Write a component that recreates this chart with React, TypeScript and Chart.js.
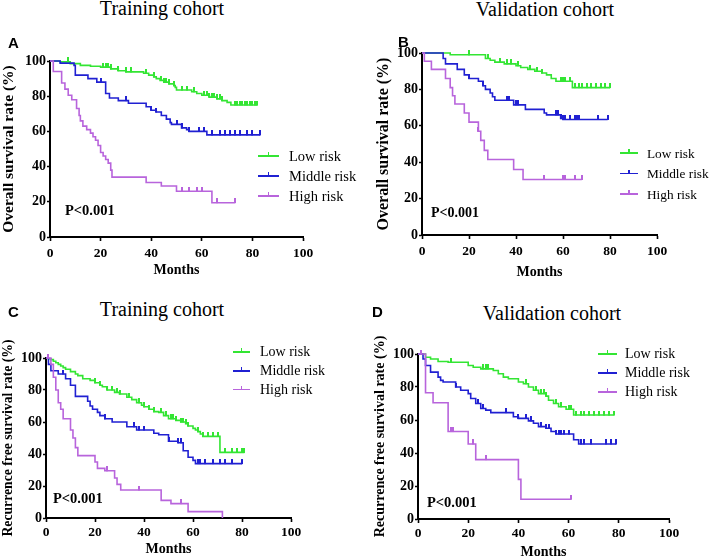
import React, { useEffect, useRef } from 'react';
import { Chart, registerables } from 'chart.js';
Chart.register(...registerables);

// ---------- text / categories ----------
const seriesNames = ['Low risk', 'Middle risk', 'High risk'];
const seriesColors = ['#33e533', '#2020d2', '#b864dc'];
const panelTitles = ['Training cohort', 'Validation cohort', 'Training cohort', 'Validation cohort'];
const panelLetters = ['A', 'B', 'C', 'D'];
const yAxisTitles = [
  'Overall survival rate (%)',
  'Overall survival rate (%)',
  'Recurrence free survival rate (%)',
  'Recurrence free survival rate (%)',
];
const xAxisTitle = 'Months';
const pValueText = 'P<0.001';
const xTickValues = [0, 20, 40, 60, 80, 100];
const yTickValues = [0, 20, 40, 60, 80, 100];

// ---------- A: overall survival, training cohort [month, survival %] ----------
const osTrainLow = [[0,100],[4,99.5],[8,98.5],[12,97.5],[16,97],[20,96.5],[24,95.5],[27,94.5],[30,93.8],[37,93],[39,92],[41,91],[42,90],[43.5,89],[45,88],[47,87],[49,86],[49.5,85],[50,83.5],[56,82.5],[58,81.5],[60,80.5],[63,79.5],[66,78.5],[68,77.5],[70,76.5],[71.5,75],[82,75]];
const osTrainMid = [[0,100],[4,98.8],[9.5,97.5],[10,92],[15,90],[18.5,88],[22,81.5],[23.5,79],[27,77.5],[31,76],[38,74],[40,72],[42,71],[44,69],[46,67],[47.5,65],[48,64],[52,62],[54,61],[55,60],[62,58],[83,58]];
const osTrainHigh = [[0,100],[1.3,94],[4.6,87.5],[5.9,84],[7.2,80.5],[8.6,78],[10.5,73],[11.5,69],[12,66],[13,63],[14.5,61],[16,59],[17,57],[18,55],[19,52],[20,48],[21,46],[22,44],[23,42],[24,38],[24.5,34],[38,31],[44,29],[50,26],[64,19.5],[73,19.5]];
const osTrainLowCens = [7,21,22,23,24,27,30,32,38,41,44,45,46,47,49,52,54,57,61,62,63,64,65,66,67,68,73,74,75,76,77,78,79,80,81,82];
const osTrainMidCens = [7,20,30,40,42,50,52,55,59,61,64,67,69,71,73,75,78,80,83];
const osTrainHighCens = [52,55,58,60,66,73];

// ---------- B: overall survival, validation cohort ----------
const osValidLow = [[0,100],[12,99],[27,97],[29,96],[31,95],[35,94],[40,93],[42,92],[45,91],[48,90],[51,89],[53,88],[55,86],[57,84.5],[64,81],[80,81]];
const osValidMid = [[0,100],[9,97],[10,94],[15,91],[18,88],[20,86],[24,84.5],[26,82],[27,80],[29,78],[30,76],[31,74],[39,71.5],[44,69],[52,67],[53,66],[59,64],[60,63.5],[79,63.5]];
const osValidHigh = [[0,100],[1,95.5],[4,91],[10,86],[12,81],[13,76.5],[14,72],[18,67],[20,62],[24,57],[25,52],[26.5,46.5],[28,41.5],[39,36],[43,30.5],[68,30.5]];
const osValidLowCens = [20,28,33,36,38,41,46,49,51,59,60,61,63,65,67,68,70,72,74,76,78,80];
const osValidMidCens = [20,26,36,37,40,41,57,58,59,60,61,63,65,66,67,75,79];
const osValidHighCens = [24,52,60,61,65,68];

// ---------- C: recurrence free survival, training cohort ----------
const rfsTrainLow = [[0,100],[1,99.5],[2,99],[3,98],[4,97],[5,96],[6,95],[7,94],[8,93],[10,91.5],[12,90],[13,89],[15,87],[18,86],[20,84.5],[22,83],[23,82],[25,80],[28,78.5],[30,77.5],[33,75.5],[35,74],[37,72],[39,70.5],[40,69.5],[42,68],[44,66.5],[46,66],[48,64],[50,62],[53,61],[55,60],[57,59],[58,57.5],[60,56],[61,55],[62,54],[63,52.5],[64,51],[71,41],[81,41]];
const rfsTrainMid = [[0,100],[1,96],[2,92],[5,90],[8,87],[10,83],[12,76],[17,73],[18,70],[19,68],[21,66],[22,64],[24,62],[27,60],[33,57],[37,55],[44,53],[46,52],[50,48],[54,47],[56,42],[58,38],[60,36],[61,34],[80,34]];
const rfsTrainHigh = [[0,100],[2,96],[3,88],[4,80],[5,72],[6,68],[7,62],[10,55],[11,50],[12,44],[13,39],[20,35],[21,31],[24,29.5],[28,25],[29,21],[30.5,17.5],[47,11],[51,9],[58,4],[72,0]];
const rfsTrainLowCens = [20,22,25,27,29,30,34,38,40,42,44,47,49,51,52,53,55,56,57,58,62,64,66,68,70,73,76,78,80,81];
const rfsTrainMidCens = [7,24,36,38,40,50,54,55,62,63,65,68,71,73,76,80];
const rfsTrainHighCens = [1,25,38,55];

// ---------- D: recurrence free survival, validation cohort ----------
const rfsValidLow = [[0,100],[3,98],[5,97],[8,95.5],[12,95],[20,93],[22,92],[25,91],[30,90],[32,88],[34,86],[36,85],[40,83],[42,82],[44,80],[46,78],[48,76],[51,74.5],[52,72],[54,70],[56,68],[59,66.5],[62,63],[78,63]];
const rfsValidMid = [[0,100],[2,97],[3,93],[5,89],[8,86],[9,84],[10,83],[15,80],[17,78],[20,76],[21,73],[23,70],[25,67],[27,66],[29,64.5],[38,62],[40,61],[44,59.5],[46,58],[48,56],[51,55],[53,53],[55,51.5],[62,48],[64,45.5],[79,45.5]];
const rfsValidHigh = [[0,100],[3,76.5],[6,70.5],[12,53],[20,45.5],[23,36],[40,24],[41,12],[61,12]];
const rfsValidLowCens = [13,26,27,28,43,47,49,50,51,55,57,60,61,63,65,66,68,70,72,74,76,78];
const rfsValidMidCens = [15,24,26,35,40,43,45,49,51,52,55,56,57,58,60,65,66,69,75,77,79];
const rfsValidHighCens = [1,13,14,22,27,61];

const panelCurves = [
  [osTrainLow, osTrainMid, osTrainHigh],
  [osValidLow, osValidMid, osValidHigh],
  [rfsTrainLow, rfsTrainMid, rfsTrainHigh],
  [rfsValidLow, rfsValidMid, rfsValidHigh],
];
const panelCensors = [
  [osTrainLowCens, osTrainMidCens, osTrainHighCens],
  [osValidLowCens, osValidMidCens, osValidHighCens],
  [rfsTrainLowCens, rfsTrainMidCens, rfsTrainHighCens],
  [rfsValidLowCens, rfsValidMidCens, rfsValidHighCens],
];

// ---------- layout (page pixels) ----------
const layouts = [
  { c: { left: 0, top: 50, width: 320, height: 230 }, pad: { top: 11, right: 17 }, yW: 50, xH: 43, xPad: 4.5, monthsPad: 1, yTitleSize: 15.5,
    title: { cx: 162, base: 15 }, letter: { x: 8, base: 48 },
    legend: { lineX: 258, lineW: 21, textX: 289, ys: [156, 176, 196], size: 14.5 }, p: { x: 65, base: 215, size: 14.5 } },
  { c: { left: 374, top: 40, width: 301, height: 245 }, pad: { top: 13, right: 18 }, yW: 48, xH: 50, xPad: 4.5, monthsPad: 4, yTitleSize: 16,
    title: { cx: 545, base: 16 }, letter: { x: 398, base: 47 },
    legend: { lineX: 620, lineW: 18, textX: 647, ys: [153, 173.5, 194], size: 13.3 }, p: { x: 431, base: 218, size: 14 } },
  { c: { left: 0, top: 330, width: 310, height: 227 }, pad: { top: 28, right: 19 }, yW: 46, xH: 39, xPad: 2.4, monthsPad: -1, yTitleSize: 13.7,
    title: { cx: 162, base: 316 }, letter: { x: 8, base: 317 },
    legend: { lineX: 233, lineW: 17, textX: 260, ys: [352, 371, 389.5], size: 14 }, p: { x: 53, base: 503, size: 14.5 } },
  { c: { left: 372, top: 325, width: 337, height: 232 }, pad: { top: 29, right: 40 }, yW: 46, xH: 38, xPad: 2.6, monthsPad: -3.4, yTitleSize: 14,
    title: { cx: 552, base: 320 }, letter: { x: 372, base: 317 },
    legend: { lineX: 598, lineW: 19, textX: 625, ys: [354, 373, 392], size: 14 }, p: { x: 427, base: 507, size: 14.5 } },
];

const SERIF = '"Liberation Serif", "Times New Roman", serif';
const SANS = '"Liberation Sans", Arial, sans-serif';

function survAt(curve: number[][], t: number) {
  let s = curve[0][1];
  for (const [ti, si] of curve) {
    if (ti <= t) s = si;
    else break;
  }
  return s;
}

function makeTick(color: string) {
  const c = document.createElement('canvas');
  c.width = 2;
  c.height = 9;
  const g = c.getContext('2d')!;
  g.fillStyle = color;
  g.fillRect(0, 0, 2, 5);
  return c;
}

function Panel({ idx }: { idx: number }) {
  const ref = useRef<HTMLCanvasElement | null>(null);
  const L = layouts[idx];
  useEffect(() => {
    const curves = panelCurves[idx];
    const cens = panelCensors[idx];
    const datasets: any[] = [];
    curves.forEach((curve, i) => {
      datasets.push({
        label: seriesNames[i],
        data: curve.map(([x, y]) => ({ x, y })),
        borderColor: seriesColors[i],
        borderWidth: 1.6,
        stepped: 'before',
        pointRadius: 0,
        fill: false,
        clip: false,
        order: 2 - i,
      });
    });
    curves.forEach((curve, i) => {
      const tick = makeTick(seriesColors[i]);
      datasets.push({
        label: seriesNames[i] + ' censored',
        data: cens[i].map((t) => ({ x: t, y: survAt(curve, t) })),
        showLine: false,
        pointStyle: tick,
        pointRadius: 3,
        borderColor: seriesColors[i],
        backgroundColor: seriesColors[i],
        clip: false,
      });
    });
    const tickFontY = { family: SERIF, weight: 'bold' as const, size: 14 };
    const tickFontX = { family: SERIF, weight: 'bold' as const, size: 13.5 };
    const chart = new Chart(ref.current!, {
      type: 'line',
      data: { datasets },
      options: {
        animation: false,
        responsive: false,
        events: [],
        layout: { padding: { top: L.pad.top, right: L.pad.right, left: 0, bottom: 0 } },
        plugins: { legend: { display: false }, tooltip: { enabled: false } },
        scales: {
          x: {
            type: 'linear',
            min: 0,
            max: 100,
            afterBuildTicks: (s: any) => { s.ticks = xTickValues.map((v) => ({ value: v })); },
            afterFit: (s: any) => { s.height = L.xH; },
            ticks: { font: tickFontX, color: '#000', padding: L.xPad, maxRotation: 0, autoSkip: false },
            grid: { drawOnChartArea: false, drawTicks: true, tickLength: 4, tickColor: '#000', tickWidth: 1.6, color: '#000' },
            border: { display: true, color: '#000', width: 2 },
            title: { display: true, text: xAxisTitle, color: '#000', font: { family: SERIF, weight: 'bold', size: 14 }, padding: { top: 0, bottom: L.monthsPad } },
          },
          y: {
            type: 'linear',
            min: 0,
            max: 100,
            afterBuildTicks: (s: any) => { s.ticks = yTickValues.map((v) => ({ value: v })); },
            afterFit: (s: any) => { s.width = L.yW; },
            ticks: { font: tickFontY, color: '#000', padding: 1, autoSkip: false },
            grid: { drawOnChartArea: false, drawTicks: true, tickLength: 3, tickColor: '#000', tickWidth: 1.6, color: '#000' },
            border: { display: true, color: '#000', width: 2 },
            title: { display: true, text: yAxisTitles[idx], color: '#000', font: { family: SERIF, weight: 'bold', size: L.yTitleSize }, padding: { top: 0, bottom: 0 } },
          },
        },
      } as any,
    });
    return () => chart.destroy();
  }, []);
  return (
    <canvas
      ref={ref}
      width={L.c.width}
      height={L.c.height}
      style={{ position: 'absolute', left: L.c.left, top: L.c.top, width: L.c.width, height: L.c.height }}
    />
  );
}

function Txt({ x, base, size, family, weight, center, children }: any) {
  const k = family === SANS ? 0.8465 : 0.8375;
  return (
    <div
      style={{
        position: 'absolute',
        left: x,
        top: base - k * size,
        fontSize: size,
        lineHeight: `${size}px`,
        fontFamily: family,
        fontWeight: weight || 'normal',
        color: '#000',
        whiteSpace: 'nowrap',
        transform: center ? 'translateX(-50%)' : undefined,
      }}
    >
      {children}
    </div>
  );
}

export default function App() {
  return (
    <div style={{ position: 'absolute', left: 0, top: 0, width: 709, height: 557, overflow: 'hidden', background: '#fff' }}>
      {layouts.map((L, idx) => (
        <React.Fragment key={idx}>
          <Panel idx={idx} />
          <Txt x={L.title.cx} base={L.title.base} size={20} family={SERIF} center>
            {panelTitles[idx]}
          </Txt>
          <Txt x={L.letter.x} base={L.letter.base} size={15} family={SANS} weight="bold">
            {panelLetters[idx]}
          </Txt>
          <Txt x={L.p.x} base={L.p.base} size={L.p.size} family={SERIF} weight="bold">
            {pValueText}
          </Txt>
          {seriesNames.map((name, i) => (
            <React.Fragment key={name}>
              <div style={{ position: 'absolute', left: L.legend.lineX, top: L.legend.ys[i] - 0.8, width: L.legend.lineW, height: 1.6, background: seriesColors[i] }} />
              <div style={{ position: 'absolute', left: L.legend.lineX + L.legend.lineW / 2 - 0.8, top: L.legend.ys[i] - 4, width: 1.6, height: 4, background: seriesColors[i] }} />
              <Txt x={L.legend.textX} base={L.legend.ys[i] + 5} size={L.legend.size} family={SERIF}>
                {name}
              </Txt>
            </React.Fragment>
          ))}
        </React.Fragment>
      ))}
    </div>
  );
}
